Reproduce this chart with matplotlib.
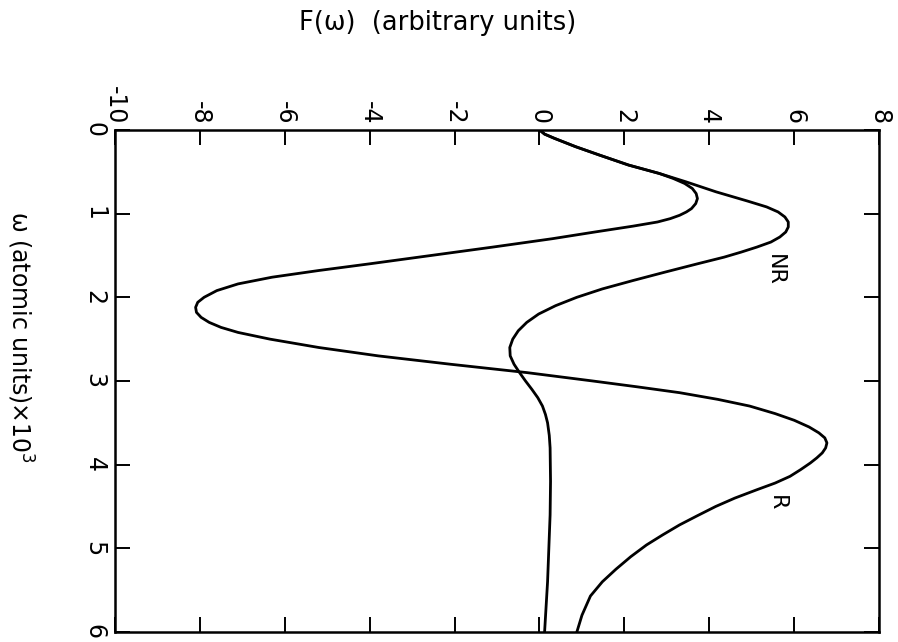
import matplotlib
matplotlib.use("Agg")
import matplotlib.pyplot as plt

# omega (atomic units x 10^3) and F(omega) for the non-resonant curve
omega_nr = [0.0, 0.05, 0.1, 0.15, 0.2, 0.3, 0.42, 0.52, 0.62, 0.74, 0.85, 0.92,
            0.98, 1.04, 1.1, 1.16, 1.22, 1.28, 1.34, 1.4, 1.46, 1.52, 1.6, 1.7,
            1.8, 1.9, 2.0, 2.1, 2.2, 2.3, 2.4, 2.5, 2.6, 2.7, 2.8, 2.9, 3.0, 3.1,
            3.2, 3.3, 3.4, 3.5, 3.65, 3.8, 4.2, 4.6, 5.0, 5.4, 6.0]
F_nr = [0.0, 0.12, 0.35, 0.6, 0.85, 1.41, 2.1, 2.82, 3.45, 4.16, 4.9, 5.35,
        5.62, 5.78, 5.86, 5.86, 5.8, 5.66, 5.45, 5.12, 4.75, 4.35, 3.72, 2.95,
        2.2, 1.48, 0.88, 0.38, -0.02, -0.3, -0.5, -0.63, -0.7, -0.69, -0.6, -0.47, -0.33, -0.18,
        -0.04, 0.07, 0.14, 0.19, 0.23, 0.25, 0.26, 0.25, 0.22, 0.19, 0.12]

# resonant curve
omega_r = [0.0, 0.05, 0.1, 0.15, 0.2, 0.3, 0.42, 0.52, 0.58, 0.64, 0.7, 0.76,
           0.82, 0.88, 0.94, 0.98, 1.02, 1.06, 1.1, 1.15, 1.22, 1.3, 1.4, 1.5, 1.6,
           1.68, 1.76, 1.84, 1.92, 2.0, 2.06, 2.12, 2.18, 2.24, 2.3, 2.36, 2.42,
           2.5, 2.6, 2.7, 2.8, 2.9, 3.0, 3.07, 3.14, 3.22, 3.3, 3.39, 3.47, 3.55,
           3.62, 3.68, 3.74, 3.8, 3.86, 3.92, 3.98, 4.06, 4.14, 4.22, 4.3, 4.4,
           4.5, 4.61, 4.72, 4.84, 4.96, 5.1, 5.25, 5.4, 5.57, 5.8, 6.0]
F_r = [0.0, 0.12, 0.35, 0.6, 0.85, 1.41, 2.1, 2.82, 3.15, 3.42, 3.6, 3.69,
       3.72, 3.68, 3.58, 3.46, 3.3, 3.08, 2.78, 2.2, 1.3, 0.3, -1.1, -2.55, -4.0,
       -5.2, -6.3, -7.1, -7.6, -7.9, -8.05, -8.1, -8.08, -7.97, -7.78, -7.5, -7.1,
       -6.35, -5.2, -3.8, -2.1, -0.3, 1.25, 2.3, 3.3, 4.2, 4.95, 5.55, 6.0, 6.35,
       6.58, 6.72, 6.77, 6.74, 6.66, 6.53, 6.38, 6.15, 5.9, 5.55, 5.12, 4.6,
       4.15, 3.72, 3.3, 2.9, 2.52, 2.15, 1.8, 1.48, 1.2, 1.0, 0.88]

F_ticks = [-10, -8, -6, -4, -2, 0, 2, 4, 6, 8]
omega_ticks = [0, 1, 2, 3, 4, 5, 6]

fig = plt.figure(figsize=(8.98, 6.42), dpi=100)
ax = fig.add_axes([0.128, 0.0156, 0.851, 0.782])

ax.plot(F_nr, omega_nr, color="black", lw=2.0, solid_joinstyle="round")
ax.plot(F_r, omega_r, color="black", lw=2.0, solid_joinstyle="round")

ax.set_xlim(-10, 8)
ax.set_ylim(6, 0)

ax.set_xticks(F_ticks)
ax.set_xticklabels([str(t) for t in F_ticks], rotation=270, fontsize=17)
ax.set_yticks(omega_ticks)
ax.set_yticklabels([str(t) for t in omega_ticks], rotation=270, fontsize=17,
                   va="center")
ax.tick_params(axis="both", direction="in", length=11, width=1.4,
               top=True, bottom=True, left=True, right=True,
               labeltop=True, labelbottom=False, labelleft=True, labelright=False)
ax.tick_params(axis="x", pad=4)
ax.tick_params(axis="y", pad=6)
for side in ax.spines.values():
    side.set_linewidth(1.8)

# curve labels
ax.text(5.55, 1.67, "NR", rotation=270, fontsize=16, ha="center", va="center")
ax.text(5.6, 4.46, "R", rotation=270, fontsize=16, ha="center", va="center")

fig.text(438 / 898, 1 - 23 / 642, "F(ω)  (arbitrary units)", fontsize=18.5,
         ha="center", va="center")
fig.text(20 / 898, 1 - 337 / 642, "ω (atomic units)×10$^3$", fontsize=17,
         rotation=270, ha="center", va="center")

fig.savefig("out.png", dpi=100)
